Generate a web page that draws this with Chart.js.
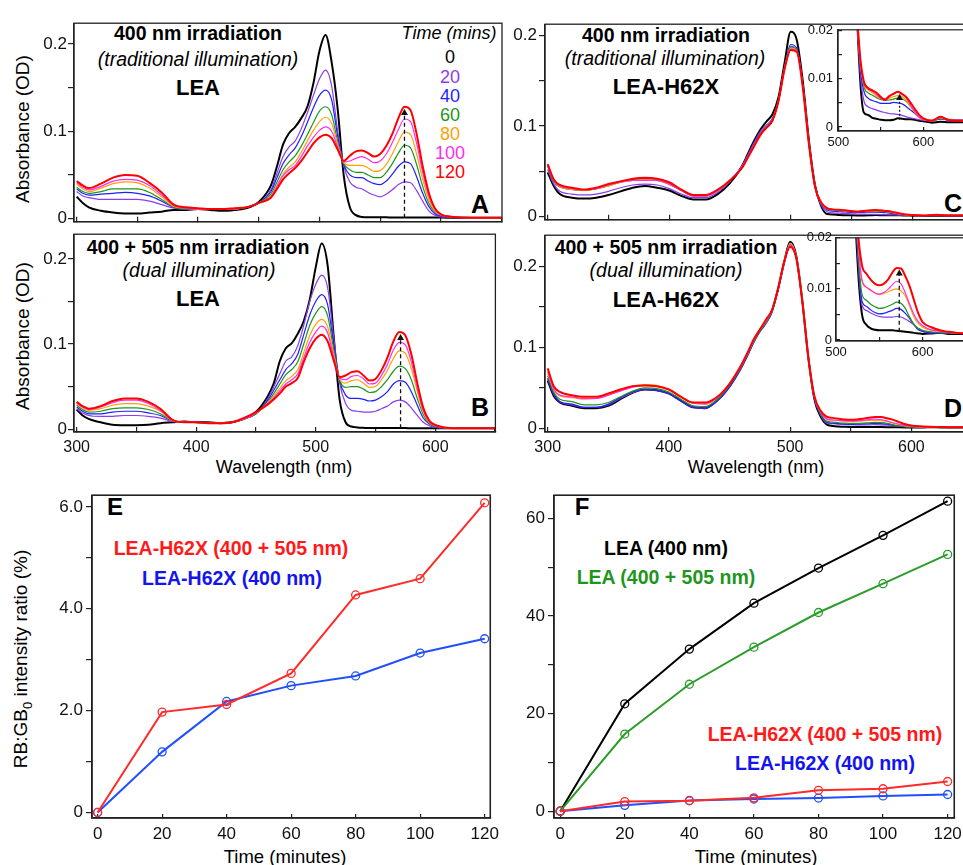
<!DOCTYPE html>
<html>
<head>
<meta charset="utf-8">
<script src="https://cdn.jsdelivr.net/npm/chart.js@4.4.1/dist/chart.umd.min.js"></script>
<style>
  body { margin: 0; width: 963px; height: 865px; overflow: hidden; background: #fff; position: relative;
         font-family: "Liberation Sans", Arial, sans-serif; color: #000; }
  canvas { position: absolute; }
  .t { position: absolute; transform: translate(-50%, -50%); white-space: nowrap; line-height: 1.15; }
  .b { font-weight: bold; }
  .i { font-style: italic; }
  .h1 { font-size: 19.5px; font-weight: bold; }
  .h2 { font-size: 19.5px; font-style: italic; }
  .h3 { font-size: 22px; font-weight: bold; }
  .let { font-size: 25px; font-weight: bold; }
  .num { font-size: 18px; }
  .leg { font-size: 19.5px; font-weight: bold; }
  .rot { transform: translate(-50%, -50%) rotate(-90deg); }
</style>
</head>
<body>

<!-- panel A -->
<div class="t h1" style="left:198px;top:33px">400 nm irradiation</div>
<div class="t h2" style="left:198px;top:59px">(traditional illumination)</div>
<div class="t h3" style="left:198px;top:88px">LEA</div>
<div class="t i num" style="left:449px;top:33px">Time (mins)</div>
<div class="t num" style="left:450px;top:57px;color:#000">0</div>
<div class="t num" style="left:450px;top:77px;color:#8a3cf0">20</div>
<div class="t num" style="left:450px;top:96px;color:#1f1fff">40</div>
<div class="t num" style="left:450px;top:115px;color:#1e961e">60</div>
<div class="t num" style="left:450px;top:134px;color:#ffa10a">80</div>
<div class="t num" style="left:450px;top:153px;color:#ff2ee6">100</div>
<div class="t num" style="left:450px;top:172px;color:#ff0000">120</div>
<div class="t let" style="left:480px;top:204px">A</div>
<div class="t rot" style="left:23px;top:129px;font-size:19px">Absorbance (OD)</div>

<!-- panel B -->
<div class="t h1" style="left:198px;top:247px">400 + 505 nm irradiation</div>
<div class="t h2" style="left:199px;top:270px">(dual illumination)</div>
<div class="t h3" style="left:198px;top:299px">LEA</div>
<div class="t let" style="left:480px;top:407px">B</div>
<div class="t rot" style="left:23px;top:336px;font-size:19px">Absorbance (OD)</div>
<div class="t" style="left:284px;top:467px;font-size:18px">Wavelength (nm)</div>

<!-- panel C -->
<div class="t h1" style="left:666px;top:35px">400 nm irradiation</div>
<div class="t h2" style="left:665px;top:58px">(traditional illumination)</div>
<div class="t h3" style="left:666px;top:87px">LEA-H62X</div>
<div class="t let" style="left:953px;top:203px">C</div>

<!-- panel D -->
<div class="t h1" style="left:666px;top:247px">400 + 505 nm irradiation</div>
<div class="t h2" style="left:666px;top:270px">(dual illumination)</div>
<div class="t h3" style="left:666px;top:300px">LEA-H62X</div>
<div class="t let" style="left:953px;top:408px">D</div>
<div class="t" style="left:756px;top:467px;font-size:18px">Wavelength (nm)</div>

<!-- panel E -->
<div class="t let" style="left:115px;top:507px;font-size:24px">E</div>
<div class="t leg" style="left:231px;top:548px;color:#ff1a1a">LEA-H62X (400 + 505 nm)</div>
<div class="t leg" style="left:232px;top:578px;color:#1414ee">LEA-H62X (400 nm)</div>
<div class="t rot" style="left:23px;top:659px;font-size:19px">RB:GB<sub style="font-size:13px">0</sub> intensity ratio (%)</div>
<div class="t" style="left:285px;top:857px;font-size:18.5px">Time (minutes)</div>

<!-- panel F -->
<div class="t let" style="left:582px;top:507px;font-size:24px">F</div>
<div class="t leg" style="left:666px;top:548px;color:#000">LEA (400 nm)</div>
<div class="t leg" style="left:666px;top:577px;color:#1e961e">LEA (400 + 505 nm)</div>
<div class="t leg" style="left:825px;top:734px;color:#ff1a1a">LEA-H62X (400 + 505 nm)</div>
<div class="t leg" style="left:825px;top:763px;color:#1414ee">LEA-H62X (400 nm)</div>
<div class="t" style="left:756px;top:857px;font-size:18.5px">Time (minutes)</div>

<script>
// wavelengths (nm) shared by all spectra
var wl = [300, 305, 310, 320, 330, 340, 350, 360, 370, 380,
          390, 400, 410, 420, 430, 440, 450, 460, 465, 470,
          475, 480, 485, 490, 495, 500, 505, 510, 515, 520,
          525, 530, 535, 540, 545, 550, 555, 560, 565, 570,
          575, 580, 585, 590, 595, 600, 610, 620, 630, 640, 650];
var timeMins = [0, 20, 40, 60, 80, 100, 120];

// A: LEA, 400 nm
var lea400_0 = [.025,.018,.013,.009,.007,.006,.006,.007,.008,.010, .010,.011,.010,.009,.010,.012,.019,.038,.060,.085, .098,.105,.115,.128,.155,.192,.210,.179,.125,.049, .013,.004,.002,.0015,.0015,.0015,.0015,.0014,.0014,.0014, .0013,.0013,.0013,.0012,.0012,.0012,.0011,.001,.001,.001,.001];
var lea400_20 = [.031,.026,.024,.022,.022,.022,.022,.020,.016,.012, .011,.011,.011,.011,.011,.013,.018,.033,.052,.071, .082,.089,.103,.121,.141,.160,.170,.152,.100,.060, .042,.036,.034,.030,.027,.025,.028,.033,.039,.042, .041,.032,.020,.009,.004,.002,.0015,.0012,.001,.001,.001];
var lea400_40 = [.034,.029,.027,.028,.029,.030,.029,.026,.020,.013, .011,.011,.011,.011,.011,.013,.018,.031,.047,.063, .073,.081,.094,.110,.127,.141,.147,.136,.094,.062, .050,.047,.047,.043,.040,.039,.043,.051,.060,.065, .063,.048,.029,.014,.006,.003,.0015,.0012,.001,.001,.001];
var lea400_60 = [.036,.031,.029,.031,.034,.034,.034,.030,.022,.013, .011,.011,.011,.011,.011,.013,.018,.028,.042,.056, .065,.072,.083,.096,.110,.123,.128,.119,.088,.063, .056,.053,.053,.050,.047,.047,.053,.063,.075,.084, .081,.062,.037,.018,.008,.004,.002,.0012,.001,.001,.001];
var lea400_80 = [.039,.034,.031,.035,.040,.042,.041,.035,.025,.014, .012,.011,.011,.011,.011,.013,.018,.026,.038,.051, .059,.065,.076,.089,.101,.111,.116,.109,.085,.064, .061,.061,.061,.058,.054,.055,.062,.074,.088,.099, .096,.074,.045,.022,.009,.004,.002,.0012,.001,.001,.001];
var lea400_100 = [.041,.036,.033,.037,.043,.045,.044,.038,.027,.015, .012,.011,.011,.011,.011,.013,.018,.025,.037,.049, .056,.061,.071,.083,.093,.101,.105,.100,.082,.065, .066,.069,.071,.068,.064,.066,.074,.087,.102,.114, .111,.086,.053,.026,.011,.005,.002,.0012,.001,.001,.001];
var lea400_120 = [.043,.038,.035,.040,.047,.050,.049,.041,.030,.016, .013,.012,.011,.011,.012,.013,.018,.024,.034,.045, .052,.058,.066,.076,.086,.093,.096,.092,.079,.066, .072,.077,.078,.075,.071,.074,.083,.097,.115,.128, .124,.097,.060,.030,.012,.005,.002,.0013,.001,.001,.001];

// B: LEA, 400 + 505 nm
var lea505_0 = [.023,.016,.012,.008,.005,.0045,.0045,.005,.007,.008, .009,.008,.008,.007,.008,.012,.020,.039,.054,.080, .095,.101,.112,.127,.152,.190,.218,.192,.110,.035, .008,.003,.002,.0015,.0012,.0012,.0012,.0012,.0012,.0012, .0012,.0011,.0011,.001,.001,.001,.001,.001,.001,.001,.001];
var lea505_20 = [.024,.019,.016,.015,.015,.016,.016,.015,.013,.009, .008,.008,.007,.007,.008,.012,.018,.036,.050,.065, .080,.085,.098,.122,.150,.170,.181,.166,.108,.054, .030,.022,.021,.020,.020,.021,.024,.027,.032,.034, .032,.025,.016,.008,.004,.002,.0012,.001,.001,.001,.001];
var lea505_40 = [.026,.021,.018,.018,.020,.021,.021,.019,.016,.010, .008,.008,.007,.007,.008,.012,.018,.034,.046,.058, .070,.077,.088,.111,.134,.150,.158,.146,.100,.057, .040,.036,.036,.035,.033,.034,.038,.044,.053,.057, .055,.044,.028,.013,.006,.003,.0013,.001,.001,.001,.001];
var lea505_60 = [.028,.023,.020,.021,.024,.025,.025,.023,.018,.010, .008,.008,.007,.007,.008,.012,.018,.032,.042,.053, .064,.070,.079,.100,.122,.136,.144,.133,.094,.058, .049,.050,.050,.047,.043,.044,.050,.058,.068,.074, .071,.058,.036,.017,.007,.003,.0013,.001,.001,.001,.001];
var lea505_80 = [.030,.025,.022,.024,.028,.030,.030,.027,.021,.010, .008,.008,.007,.007,.008,.012,.019,.031,.039,.048, .057,.062,.070,.090,.110,.123,.129,.120,.089,.059, .054,.057,.058,.054,.049,.050,.058,.069,.083,.092, .089,.071,.044,.020,.008,.004,.0014,.001,.001,.001,.001];
var lea505_100 = [.031,.026,.023,.026,.031,.034,.034,.030,.022,.011, .008,.008,.007,.007,.008,.012,.019,.030,.037,.045, .053,.058,.065,.084,.102,.114,.121,.113,.085,.060, .058,.062,.063,.059,.053,.054,.063,.076,.093,.102, .099,.079,.048,.022,.009,.004,.0015,.001,.001,.001,.001];
var lea505_120 = [.032,.027,.024,.027,.033,.036,.036,.032,.024,.011, .008,.008,.007,.007,.008,.013,.020,.029,.035,.042, .050,.054,.060,.079,.095,.106,.111,.103,.081,.061, .063,.067,.068,.063,.057,.059,.069,.084,.103,.114, .110,.088,.054,.025,.010,.005,.0016,.001,.001,.001,.001];

// C: LEA-H62X, 400 nm
var h62x400_0 = [.049,.034,.025,.021,.020,.021,.024,.028,.032,.034, .032,.029,.023,.019,.019,.025,.037,.056,.070,.084, .096,.105,.113,.132,.170,.204,.195,.149,.084,.035, .012,.003,.0025,.0019,.0017,.0015,.0014,.0014,.0015,.0018, .0017,.0016,.0016,.0015,.0013,.0012,.0009,.0011,.001,.001,.001];
var h62x400_20 = [.052,.036,.028,.025,.024,.025,.028,.032,.035,.036, .035,.031,.025,.021,.021,.027,.039,.056,.069,.082, .094,.101,.109,.129,.165,.188,.184,.144,.082,.034, .013,.0055,.0042,.0038,.0035,.0032,.003,.0028,.0027,.0026, .0024,.0021,.0019,.0017,.0015,.0014,.0012,.0018,.0013,.0013,.0012];
var h62x400_40 = [.056,.039,.033,.030,.029,.031,.035,.039,.041,.042, .041,.036,.029,.023,.023,.029,.040,.056,.068,.080, .092,.099,.107,.128,.165,.190,.186,.145,.082,.034, .014,.0075,.006,.0055,.0052,.0049,.0049,.0049,.0051,.005, .0048,.0042,.0035,.0028,.002,.0015,.0013,.0016,.0016,.0015,.0014];
var h62x400_60 = [.056,.039,.033,.030,.029,.031,.034,.038,.040,.041, .040,.036,.029,.023,.023,.029,.040,.055,.067,.079, .091,.099,.107,.128,.164,.187,.184,.144,.081,.033, .015,.0085,.0071,.0066,.0061,.0057,.0055,.0056,.0058,.006, .0058,.0053,.0042,.003,.002,.0015,.0013,.0018,.0015,.0014,.0013];
var h62x400_80 = [.057,.040,.033,.030,.029,.031,.034,.038,.040,.041, .040,.036,.029,.023,.023,.029,.040,.055,.067,.079, .091,.098,.106,.128,.164,.186,.183,.143,.081,.033, .015,.009,.0077,.0071,.0064,.0059,.0057,.006,.0063,.0065, .0063,.0055,.0043,.003,.002,.0015,.0013,.0019,.0015,.0014,.0013];
var h62x400_100 = [.057,.040,.034,.031,.030,.031,.035,.038,.040,.040, .040,.036,.029,.023,.023,.029,.040,.055,.067,.079, .091,.098,.106,.128,.163,.185,.183,.143,.080,.033, .015,.0092,.0079,.0074,.0067,.006,.0059,.0065,.007,.0073, .007,.006,.0045,.0031,.002,.0015,.0014,.0021,.0015,.0014,.0013];
var h62x400_120 = [.058,.041,.035,.032,.030,.032,.036,.039,.042,.043, .042,.038,.030,.024,.024,.030,.040,.054,.066,.078, .090,.098,.106,.128,.163,.184,.182,.142,.080,.033, .016,.0095,.0081,.0076,.0071,.0062,.0056,.0064,.0069,.0073, .0068,.0062,.005,.0037,.0025,.0018,.0013,.0021,.0014,.0013,.0013];

// D: LEA-H62X, 400 + 505 nm
var h62x505_0 = [.059,.040,.032,.028,.025,.025,.028,.036,.044,.048, .047,.043,.034,.026,.025,.035,.052,.077,.092,.108, .121,.131,.145,.172,.205,.230,.213,.158,.087,.036, .015,.005,.003,.0023,.002,.0019,.0019,.0019,.0019,.0018, .0017,.0016,.0015,.0014,.0013,.0012,.0013,.0014,.0012,.0012,.0012];
var h62x505_20 = [.061,.042,.033,.029,.026,.026,.029,.037,.044,.048, .047,.043,.034,.026,.025,.034,.051,.076,.091,.107, .120,.130,.144,.171,.204,.227,.211,.157,.087,.037, .017,.0068,.0058,.0053,.0049,.0046,.0045,.0045,.0045,.0046, .0045,.0041,.0036,.003,.0022,.0017,.0014,.0014,.0013,.0013,.0012];
var h62x505_40 = [.062,.043,.033,.030,.026,.026,.030,.038,.045,.048, .047,.043,.034,.026,.025,.034,.051,.075,.090,.106, .119,.129,.143,.170,.203,.225,.210,.157,.087,.037, .018,.0076,.0066,.0059,.0054,.0051,.0052,.0055,.0058,.0062, .006,.0052,.0042,.003,.002,.0017,.0014,.0014,.0013,.0013,.0012];
var h62x505_60 = [.065,.045,.036,.033,.029,.029,.032,.039,.046,.050, .049,.045,.036,.028,.027,.036,.053,.077,.092,.107, .120,.130,.144,.171,.204,.226,.211,.157,.087,.038, .019,.009,.0078,.007,.0065,.0062,.0063,.0066,.007,.0074, .0072,.0062,.0045,.003,.0023,.0019,.0016,.0015,.0014,.0013,.0013];
var h62x505_80 = [.068,.048,.040,.038,.036,.037,.041,.047,.052,.054, .053,.048,.039,.031,.030,.038,.055,.078,.093,.109, .122,.132,.146,.172,.205,.228,.212,.158,.088,.039, .021,.0115,.0103,.0097,.0092,.0089,.0091,.0094,.0098,.010, .0096,.0086,.0066,.0045,.0032,.0025,.0019,.0017,.0015,.0014,.0013];
var h62x505_100 = [.070,.049,.041,.039,.037,.037,.041,.046,.051,.053, .052,.048,.039,.031,.030,.038,.055,.078,.093,.109, .122,.132,.146,.172,.205,.226,.211,.157,.088,.039, .021,.0118,.0104,.0098,.0092,.009,.0093,.0099,.0108,.0115, .011,.0092,.007,.005,.0036,.0028,.002,.0018,.0015,.0014,.0013];
var h62x505_120 = [.074,.052,.045,.041,.039,.039,.043,.048,.052,.053, .052,.048,.039,.032,.032,.039,.055,.079,.094,.110, .122,.134,.146,.172,.205,.224,.210,.157,.088,.040, .022,.0146,.013,.0118,.011,.0107,.011,.0118,.0132,.0141, .014,.0125,.0105,.0078,.0052,.0035,.0025,.0019,.0016,.0014,.0013];

// dashed arrows: [wavelength, from, to]
var arrowA = [570, 0.001, 0.121];
var arrowB = [571, 0.001, 0.107];
var arrowCin = [572, 0.0015, 0.0060];
var arrowDin = [573, 0.0016, 0.0130];

// E / F: RB:GB0 intensity ratio (%)
var ratioH62x505 = [0, 1.97, 2.12, 2.73, 4.27, 4.59, 6.08];
var ratioH62x400 = [0, 1.19, 2.18, 2.49, 2.68, 3.13, 3.41];
var ratioLea400 = [0, 22.0, 33.2, 42.6, 49.8, 56.5, 63.5];
var ratioLea505 = [0, 15.8, 26.0, 33.6, 40.7, 46.6, 52.6];

// ticks
var specXTicks = [300, 350, 400, 450, 500, 550, 600, 650];
var specXLabels = ['300', '', '400', '', '500', '', '600', ''];
var specYTicks = [0, 0.05, 0.1, 0.15, 0.2];
var specYLabels = ['0', '', '0.1', '', '0.2'];
var insetXTicks = [500, 550, 600, 650];
var insetXLabels = ['500', '', '600', ''];
var insetYTicks = [0, 0.005, 0.01, 0.015, 0.02];
var insetYLabels = ['0', '', '0.01', '', '0.02'];
var timeTicks = [0, 20, 40, 60, 80, 100, 120];
var timeLabels = ['0', '20', '40', '60', '80', '100', '120'];
var ratioTicks = [0, 1, 2, 3, 4, 5, 6];
var ratioLabels = ['0', '', '2.0', '', '4.0', '', '6.0'];
var pctTicks = [0, 10, 20, 30, 40, 50, 60];
var pctLabels = ['0', '', '20', '', '40', '', '60'];

var FONT = '"Liberation Sans", Arial, sans-serif';
var specColors = ['#000000', '#8a3cf0', '#1f1fff', '#1e961e', '#ffa10a', '#ff2ee6', '#ff0000'];
var specWidths = [2, 1.2, 1.2, 1.2, 1.2, 1.2, 2];

var frame = {
  id: 'frame',
  afterDraw: function (chart, args, opts) {
    var a = chart.chartArea, c = chart.ctx;
    c.save();
    c.strokeStyle = '#222';
    c.lineWidth = opts.width || 1.3;
    c.strokeRect(a.left, a.top, a.right - a.left, a.bottom - a.top);
    c.restore();
  }
};

function pts(xs, ys) {
  return xs.map(function (x, i) { return {x: x, y: ys[i]}; });
}

function axis(s, dir) {
  return {
    type: 'linear', min: s.min, max: s.max,
    afterFit: function (sc) { if (dir === 'x') sc.height = s.size; else sc.width = s.size; },
    afterBuildTicks: function (sc) { sc.ticks = s.ticks.map(function (v) { return {value: v}; }); },
    ticks: {
      autoSkip: false, maxRotation: 0, padding: s.pad, color: '#111',
      font: {family: FONT, size: s.font},
      callback: function (v, i) { return s.labels ? s.labels[i] : ''; }
    },
    grid: {drawOnChartArea: false, drawTicks: true, tickLength: s.tick, color: '#222', lineWidth: 1.2},
    border: {display: true, color: '#222', width: 1.3}
  };
}

// box = plot area in page pixels [left, top, right, bottom]
function panel(box, datasets, sx, sy, padT, padR, fw) {
  var cv = document.createElement('canvas');
  cv.width = box[2] - box[0] + sy.size + padR;
  cv.height = box[3] - box[1] + padT + sx.size;
  cv.style.left = (box[0] - sy.size) + 'px';
  cv.style.top = (box[1] - padT) + 'px';
  document.body.appendChild(cv);
  return new Chart(cv, {
    type: 'line',
    data: {datasets: datasets},
    options: {
      responsive: false, animation: false, devicePixelRatio: 1,
      layout: {padding: {top: padT, right: padR, left: 0, bottom: 0}, autoPadding: false},
      plugins: {legend: {display: false}, tooltip: {enabled: false}, frame: {width: fw}},
      elements: {point: {radius: 0}},
      scales: {x: axis(sx, 'x'), y: axis(sy, 'y')}
    },
    plugins: [frame]
  });
}

function spectra(series, arrow, dash) {
  var ds = [];
  if (arrow) {
    ds.push({
      data: [{x: arrow[0], y: arrow[1]}, {x: arrow[0], y: arrow[2]}],
      borderColor: '#111', borderWidth: 1.3, borderDash: dash,
      pointRadius: [0, 4], pointStyle: 'triangle',
      pointBackgroundColor: '#111', pointBorderColor: '#111', pointBorderWidth: 0
    });
  }
  for (var i = series.length - 1; i >= 0; i--) {
    ds.push({
      data: pts(wl, series[i]), borderColor: specColors[i], borderWidth: specWidths[i],
      cubicInterpolationMode: 'monotone', pointRadius: 0
    });
  }
  return ds;
}

function timeSet(ys, color, width) {
  return {
    data: pts(timeMins, ys), borderColor: color, borderWidth: width || 2,
    pointRadius: 4, pointStyle: 'circle', pointBorderColor: color,
    pointBackgroundColor: 'rgba(0,0,0,0)', pointBorderWidth: 1.3
  };
}

var A = [lea400_0, lea400_20, lea400_40, lea400_60, lea400_80, lea400_100, lea400_120];
var B = [lea505_0, lea505_20, lea505_40, lea505_60, lea505_80, lea505_100, lea505_120];
var C = [h62x400_0, h62x400_20, h62x400_40, h62x400_60, h62x400_80, h62x400_100, h62x400_120];
var D = [h62x505_0, h62x505_20, h62x505_40, h62x505_60, h62x505_80, h62x505_100, h62x505_120];

var xTop = {min: 297.78, max: 650.33, ticks: specXTicks, labels: null, size: 8, tick: -5, pad: 0, font: 16};
var xBot = {min: 297.78, max: 650.33, ticks: specXTicks, labels: specXLabels, size: 26, tick: -5, pad: 11, font: 16};

panel([74, 16, 502, 225], spectra(A, arrowA, [4, 3]), xTop,
  {min: -0.0036, max: 0.2236, ticks: specYTicks, labels: specYLabels, size: 74, tick: 6, pad: 1, font: 17}, 4, 4);
panel([74, 227, 502, 432], spectra(B, arrowB, [4, 3]), xBot,
  {min: -0.0034, max: 0.2290, ticks: specYTicks, labels: specYLabels, size: 74, tick: 6, pad: 1, font: 17}, 4, 4);

var xTopR = {min: 297.78, max: 650.05, ticks: specXTicks, labels: null, size: 8, tick: -5, pad: 0, font: 16};
var xBotR = {min: 297.78, max: 650.05, ticks: specXTicks, labels: specXLabels, size: 26, tick: -5, pad: 11, font: 16};
panel([545, 16, 973, 224], spectra(C, null), xTopR,
  {min: -0.0034, max: 0.2124, ticks: specYTicks, labels: specYLabels, size: 40, tick: 6, pad: 2, font: 17}, 4, 10);
panel([545, 227, 973, 432], spectra(D, null), xBotR,
  {min: -0.0044, max: 0.2382, ticks: specYTicks, labels: specYLabels, size: 40, tick: 6, pad: 2, font: 17}, 4, 10);

// insets
panel([838, 23, 970, 131], spectra(C, arrowCin, [2, 2]),
  {min: 499.66, max: 650.7, ticks: insetXTicks, labels: insetXLabels, size: 24, tick: -4, pad: 8, font: 13},
  {min: -0.00084, max: 0.02019, ticks: insetYTicks, labels: insetYLabels, size: 40, tick: -4, pad: 9, font: 13}, 10, 4, 1.2);
panel([836, 232, 970, 341], spectra(D, arrowDin, [4, 3]),
  {min: 500, max: 650.6, ticks: insetXTicks, labels: insetXLabels, size: 24, tick: -4, pad: 8, font: 13},
  {min: -0.00019, max: 0.0200, ticks: insetYTicks, labels: insetYLabels, size: 40, tick: -4, pad: 8, font: 13}, 10, 4, 1.2);

// E
panel([92, 487, 497, 818],
  [timeSet(ratioH62x505, '#ff2a2a'), timeSet(ratioH62x400, '#1f4fff')],
  {min: -1.74, max: 121.74, ticks: timeTicks, labels: timeLabels, size: 30, tick: -4, pad: 10, font: 17},
  {min: -0.109, max: 6.229, ticks: ratioTicks, labels: ratioLabels, size: 92, tick: 6, pad: 3, font: 17}, 5, 12, 1.6);

// F
panel([554, 487, 960, 818],
  [timeSet(ratioH62x505, '#ff2a2a'), timeSet(ratioH62x400, '#1f4fff'),
   timeSet(ratioLea505, '#2a9d2a'), timeSet(ratioLea400, '#000000')],
  {min: -1.92, max: 122.05, ticks: timeTicks, labels: timeLabels, size: 30, tick: -4, pad: 10, font: 17},
  {min: -1.40, max: 64.73, ticks: pctTicks, labels: pctLabels, size: 50, tick: 6, pad: 3, font: 17}, 5, 12, 1.6);
</script>
</body>
</html>
